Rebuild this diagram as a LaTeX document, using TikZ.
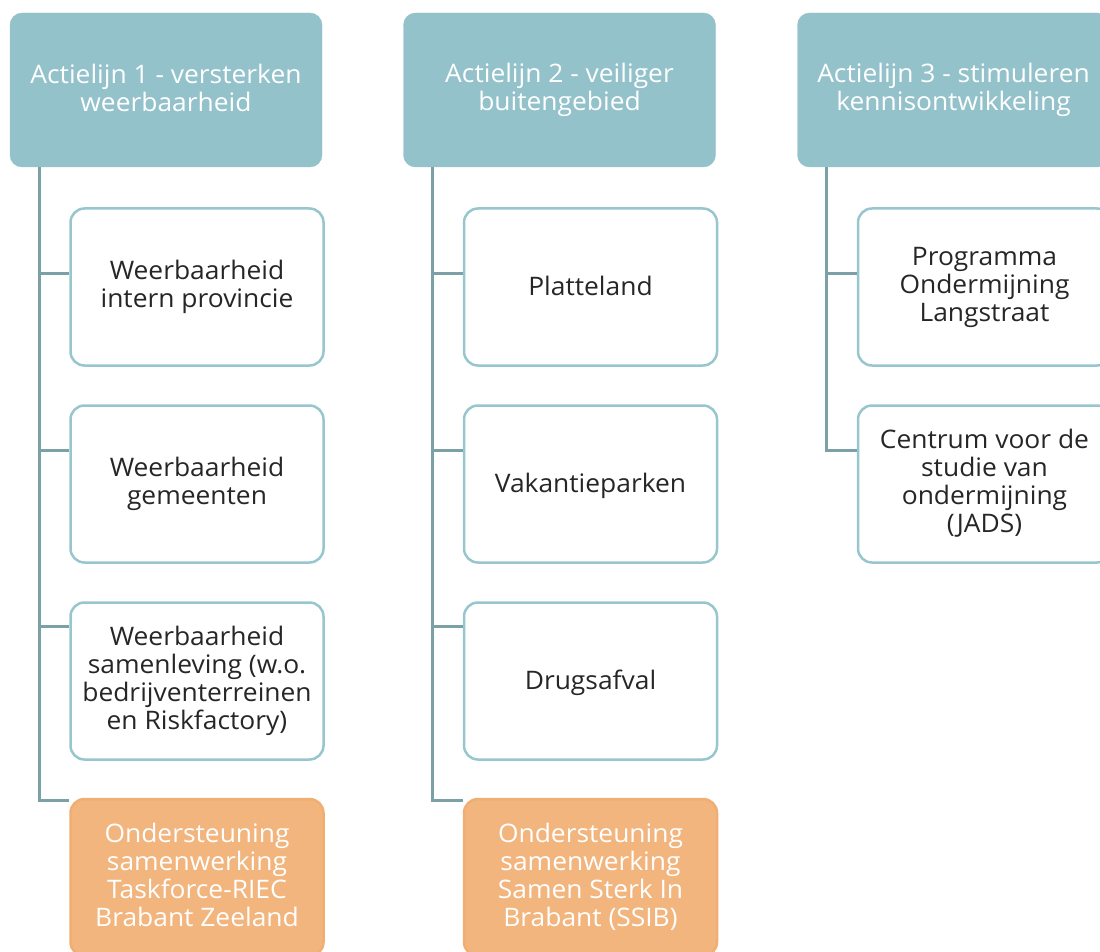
\documentclass[tikz,border=0pt]{standalone}
\usepackage{fontspec}
\setmainfont{Open Sans}[FakeStretch=1.035]
\definecolor{hdr}{HTML}{94C2CB}
\definecolor{cbord}{HTML}{97C6CE}
\definecolor{lin}{HTML}{7BA0A5}
\definecolor{org}{HTML}{F2B57E}
\definecolor{orgb}{HTML}{F0AE72}
\definecolor{txt}{HTML}{262626}
\newcommand\boxstrut{\rule[-5.4pt]{0pt}{28pt}}
\newcommand\hdrstrut{\rule[-3.4pt]{0pt}{28pt}}
\begin{document}
\begin{tikzpicture}[x=1pt,y=1pt,
  boxtext/.style={inner sep=0pt, align=center, font=\fontsize{25.5}{28}\selectfont, execute at begin node=\boxstrut, execute at end node=\boxstrut},
  hdrbox/.style={inner sep=0pt, align=center, font=\fontsize{25.5}{28}\selectfont, execute at begin node=\hdrstrut, execute at end node=\hdrstrut, fill=hdr, draw=hdr, rounded corners=12pt, minimum width=312pt, minimum height=154pt, text=white},
  childbox/.style={boxtext, fill=white, draw=cbord, line width=2.5pt, rounded corners=14pt, minimum width=253pt, minimum height=157pt, text=txt},
  orangebox/.style={childbox, fill=org, draw=orgb, text=white},
  conn/.style={draw=lin, line width=3pt}]
\useasboundingbox (0,0) rectangle (1100,-952);
\clip (0,0) rectangle (1100,-952);
% headers
\node[hdrbox] (h1) at (166,-90) {Actielijn 1 - versterken\\weerbaarheid};
\node[hdrbox] (h2) at (559.5,-90) {Actielijn 2 - veiliger\\buitengebied};
\node[hdrbox] (h3) at (953.5,-90) {Actielijn 3 - stimuleren\\kennisontwikkeling};
% column 1
\node[childbox] (a1) at (197,-287) {Weerbaarheid\\intern provincie};
\node[childbox] (a2) at (197,-484) {Weerbaarheid\\gemeenten};
\node[childbox] (a3) at (197,-681) {Weerbaarheid\\samenleving (w.o.\\bedrijventerreinen\\en Riskfactory)};
\node[orangebox] (a4) at (197,-877.5) {Ondersteuning\\samenwerking\\Taskforce-RIEC\\Brabant Zeeland};
% column 2
\node[childbox] (b1) at (590.5,-287) {Platteland};
\node[childbox] (b2) at (590.5,-484) {Vakantieparken};
\node[childbox] (b3) at (590.5,-681) {Drugsafval};
\node[orangebox] (b4) at (590.5,-877.5) {Ondersteuning\\samenwerking\\Samen Sterk In\\Brabant (SSIB)};
% column 3
\node[childbox] (c1) at (984.5,-287) {Programma\\Ondermijning\\Langstraat};
\node[childbox] (c2) at (984.5,-484) {Centrum voor de\\studie van\\ondermijning\\(JADS)};
% connectors
\foreach \h/\c/\d in {h1/a1/66, h1/a2/46, h1/a3/25, h1/a4/3,
                      h2/b1/66, h2/b2/46, h2/b3/25, h2/b4/3,
                      h3/c1/66, h3/c2/46}{
  \draw[conn] ([xshift=29.5pt]\h.south west) |- ([yshift=-\d pt]\c.north west);
}
\end{tikzpicture}
\end{document}
